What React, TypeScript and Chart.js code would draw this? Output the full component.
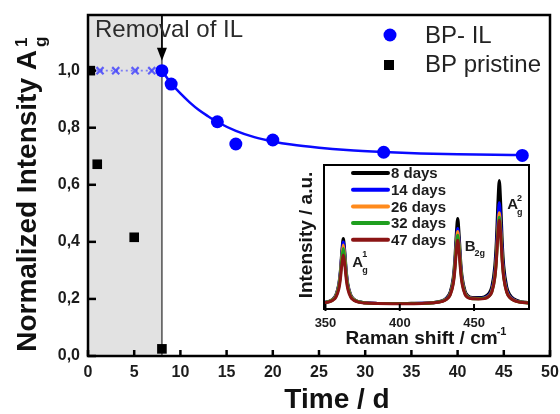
import React, { useEffect, useRef } from 'react';
import { Chart, registerables } from 'chart.js';

Chart.register(...registerables);

const FONT = '"Liberation Sans", Arial, Helvetica, sans-serif';

// ---------- main panel data ----------
const ilDays = [8, 9, 14, 16, 20, 32, 47];
const ilIntensity = [1.0, 0.953, 0.821, 0.743, 0.757, 0.714, 0.703];
const pristineDays = [0.25, 1, 5, 8];
const pristineIntensity = [1.0, 0.672, 0.416, 0.025];
const fitDays = [8, 9, 10, 11, 12, 13, 14, 16, 18, 20, 22, 25, 28, 32, 36, 40, 44, 47];
const fitIntensity = [1.0, 0.956, 0.92, 0.889, 0.862, 0.84, 0.82, 0.789, 0.767, 0.752, 0.741, 0.73, 0.722, 0.715, 0.71, 0.707, 0.705, 0.704];
const ilStoredDays = [0.3, 1.3, 3.0, 5.1, 6.9, 8];
const ilStoredIntensity = [1, 1, 1, 1, 1, 1];
const ilStoredMarker = [0, 5, 5, 5, 5, 0];
const removalDay = 8;
const removalLabel = 'Removal of IL';
const xTicks = [0, 5, 10, 15, 20, 25, 30, 35, 40, 45, 50];
const yTicks = [0, 0.2, 0.4, 0.6, 0.8, 1.0];
const yTickLabels = ['0,0', '0,2', '0,4', '0,6', '0,8', '1,0'];
const seriesLabels = ['BP- IL', 'BP pristine'];

// ---------- inset (Raman spectra) data ----------
const ramanShift = [349, 352, 355, 357, 359, 360, 361, 362, 363, 364, 365, 367, 369, 372, 377, 385, 395, 405, 415, 423, 428, 431, 434, 436, 437, 438, 439, 440, 441, 442, 444, 446, 449, 453, 457, 460, 462, 464, 465, 466, 467, 468, 469, 470, 472, 474, 477, 481, 487];
const spec8 = [0.046, 0.052, 0.069, 0.098, 0.175, 0.263, 0.399, 0.49, 0.399, 0.263, 0.175, 0.098, 0.069, 0.052, 0.043, 0.039, 0.038, 0.039, 0.04, 0.046, 0.056, 0.072, 0.12, 0.22, 0.334, 0.511, 0.629, 0.512, 0.335, 0.222, 0.123, 0.092, 0.08, 0.079, 0.085, 0.109, 0.157, 0.302, 0.466, 0.722, 0.893, 0.722, 0.465, 0.3, 0.155, 0.101, 0.069, 0.053, 0.044];
const spec14 = [0.045, 0.051, 0.067, 0.094, 0.167, 0.25, 0.379, 0.465, 0.379, 0.25, 0.167, 0.094, 0.067, 0.051, 0.043, 0.039, 0.038, 0.038, 0.04, 0.044, 0.053, 0.068, 0.109, 0.198, 0.298, 0.454, 0.559, 0.455, 0.299, 0.2, 0.112, 0.085, 0.075, 0.074, 0.078, 0.097, 0.135, 0.254, 0.388, 0.598, 0.738, 0.598, 0.387, 0.252, 0.133, 0.089, 0.063, 0.05, 0.042];
const spec26 = [0.044, 0.051, 0.066, 0.092, 0.161, 0.24, 0.363, 0.445, 0.363, 0.24, 0.161, 0.092, 0.066, 0.051, 0.042, 0.039, 0.038, 0.038, 0.039, 0.044, 0.053, 0.066, 0.106, 0.192, 0.288, 0.438, 0.538, 0.438, 0.289, 0.193, 0.109, 0.083, 0.074, 0.073, 0.075, 0.092, 0.126, 0.232, 0.353, 0.542, 0.668, 0.542, 0.352, 0.231, 0.123, 0.084, 0.06, 0.048, 0.042];
const spec32 = [0.044, 0.05, 0.064, 0.088, 0.154, 0.228, 0.343, 0.42, 0.343, 0.228, 0.154, 0.088, 0.064, 0.05, 0.042, 0.038, 0.038, 0.038, 0.039, 0.044, 0.052, 0.065, 0.103, 0.184, 0.275, 0.418, 0.513, 0.418, 0.276, 0.185, 0.105, 0.081, 0.072, 0.072, 0.074, 0.089, 0.121, 0.223, 0.338, 0.518, 0.637, 0.518, 0.337, 0.222, 0.119, 0.081, 0.059, 0.048, 0.041];
const spec47 = [0.043, 0.048, 0.061, 0.082, 0.14, 0.205, 0.307, 0.375, 0.307, 0.205, 0.14, 0.082, 0.061, 0.048, 0.041, 0.038, 0.037, 0.037, 0.039, 0.043, 0.051, 0.063, 0.098, 0.173, 0.258, 0.39, 0.478, 0.39, 0.258, 0.174, 0.1, 0.078, 0.071, 0.07, 0.072, 0.088, 0.118, 0.216, 0.328, 0.502, 0.617, 0.502, 0.327, 0.215, 0.116, 0.08, 0.058, 0.047, 0.041];
const spectraLabels = ['8 days', '14 days', '26 days', '32 days', '47 days'];
const spectraColors = ['#000000', '#0000ff', '#ff8a1c', '#1f9f1f', '#8b1414'];
const spectra = [spec8, spec14, spec26, spec32, spec47];
const ramanTicks = [350, 400, 450];
const peakPositions = [362, 439, 467];

const toXY = (xs: number[], ys: number[]) => xs.map((x, i) => ({ x, y: ys[i] }));

function textWithScripts(ctx: any, x: number, y: number, main: string, sup: string, sub: string, bigPx: number, smallPx: number, supDy: number, subDy: number, color: string) {
  ctx.fillStyle = color;
  ctx.textAlign = 'left';
  ctx.textBaseline = 'alphabetic';
  ctx.font = `bold ${bigPx}px ${FONT}`;
  ctx.fillText(main, x, y);
  const w = ctx.measureText(main).width;
  ctx.font = `bold ${smallPx}px ${FONT}`;
  if (sup) ctx.fillText(sup, x + w - 1, y + supDy);
  if (sub) ctx.fillText(sub, x + w - 1, y + subDy);
}

const mainDecor = {
  id: 'mainDecor',
  beforeDatasetsDraw(chart: any) {
    const { ctx, chartArea: a, scales } = chart;
    const xr = scales.x.getPixelForValue(removalDay);
    ctx.save();
    ctx.fillStyle = '#e2e2e2';
    ctx.fillRect(a.left, a.top, xr - a.left, a.bottom - a.top);
    ctx.strokeStyle = '#505050';
    ctx.lineWidth = 1.5;
    ctx.beginPath();
    ctx.moveTo(xr, a.top);
    ctx.lineTo(xr, a.bottom);
    ctx.stroke();
    ctx.restore();
  },
  afterDatasetsDraw(chart: any) {
    const { ctx, chartArea: a, scales } = chart;
    const xs = scales.x;
    const ys = scales.y;
    ctx.save();
    // arrow marking removal of IL
    const xr = xs.getPixelForValue(removalDay);
    const tip = ys.getPixelForValue(1.0) - 10;
    ctx.strokeStyle = '#000';
    ctx.lineWidth = 1.6;
    ctx.beginPath();
    ctx.moveTo(xr, a.top);
    ctx.lineTo(xr, tip - 10);
    ctx.stroke();
    ctx.fillStyle = '#000';
    ctx.beginPath();
    ctx.moveTo(xr - 5, tip - 13);
    ctx.lineTo(xr + 5, tip - 13);
    ctx.lineTo(xr, tip);
    ctx.closePath();
    ctx.fill();
    // annotation
    ctx.font = `24px ${FONT}`;
    ctx.fillStyle = '#2a2a2a';
    ctx.textAlign = 'left';
    ctx.textBaseline = 'alphabetic';
    ctx.fillText(removalLabel, a.left + 7, a.top + 22);
    // frame
    ctx.strokeStyle = '#000';
    ctx.lineWidth = 2.5;
    ctx.strokeRect(a.left, a.top, a.right - a.left, a.bottom - a.top);
    // tick marks (inward)
    ctx.lineWidth = 2.5;
    xTicks.forEach((v) => {
      const px = xs.getPixelForValue(v);
      ctx.beginPath();
      ctx.moveTo(px, a.bottom);
      ctx.lineTo(px, a.bottom - 6);
      ctx.stroke();
    });
    yTicks.forEach((v) => {
      const py = ys.getPixelForValue(v);
      ctx.beginPath();
      ctx.moveTo(a.left, py);
      ctx.lineTo(a.left + 8, py);
      ctx.stroke();
    });
    // tick labels
    ctx.font = `bold 16px ${FONT}`;
    ctx.fillStyle = '#1c1c1c';
    ctx.textAlign = 'center';
    ctx.textBaseline = 'middle';
    xTicks.forEach((v) => ctx.fillText(String(v), xs.getPixelForValue(v), a.bottom + 17));
    ctx.textAlign = 'right';
    yTicks.forEach((v, i) => ctx.fillText(yTickLabels[i], a.left - 8, ys.getPixelForValue(v)));
    // x title
    ctx.font = `bold 28px ${FONT}`;
    ctx.fillStyle = '#111';
    ctx.textAlign = 'center';
    ctx.textBaseline = 'alphabetic';
    ctx.fillText('Time / d', (a.left + a.right) / 2 + 18, a.bottom + 52);
    // y title
    ctx.save();
    ctx.font = `bold 28px ${FONT}`;
    const yt = 'Normalized Intensity A';
    const w = ctx.measureText(yt).width;
    ctx.translate(36, a.top + 35 + w);
    ctx.rotate(-Math.PI / 2);
    ctx.fillStyle = '#111';
    ctx.textAlign = 'left';
    ctx.fillText(yt, 0, 0);
    ctx.font = `bold 17px ${FONT}`;
    ctx.fillText('1', w + 3, -9);
    ctx.fillText('g', w + 3, 10);
    ctx.restore();
    // legend
    ctx.fillStyle = '#0000ff';
    ctx.beginPath();
    ctx.arc(a.right - 160, a.top + 20, 6.5, 0, Math.PI * 2);
    ctx.fill();
    ctx.fillStyle = '#000';
    ctx.fillRect(a.right - 166, a.top + 45, 10, 10);
    ctx.font = `24px ${FONT}`;
    ctx.fillStyle = '#222';
    ctx.textAlign = 'left';
    ctx.textBaseline = 'alphabetic';
    ctx.fillText(seriesLabels[0], a.right - 125, a.top + 28);
    ctx.fillText(seriesLabels[1], a.right - 125, a.top + 57);
    ctx.restore();
  },
};

const insetDecor = {
  id: 'insetDecor',
  beforeDatasetsDraw(chart: any) {
    const { ctx, chartArea: a } = chart;
    ctx.save();
    ctx.fillStyle = '#fff';
    ctx.fillRect(a.left, a.top, a.right - a.left, a.bottom - a.top);
    ctx.restore();
  },
  afterDatasetsDraw(chart: any) {
    const { ctx, chartArea: a, scales } = chart;
    const xs = scales.x;
    ctx.save();
    ctx.strokeStyle = '#000';
    ctx.lineWidth = 2;
    ctx.strokeRect(a.left, a.top, a.right - a.left, a.bottom - a.top);
    ramanTicks.forEach((v) => {
      const px = xs.getPixelForValue(v);
      ctx.beginPath();
      ctx.moveTo(px, a.bottom + 2);
      ctx.lineTo(px, a.bottom - 5);
      ctx.stroke();
    });
    ctx.font = `bold 13px ${FONT}`;
    ctx.fillStyle = '#1c1c1c';
    ctx.textAlign = 'center';
    ctx.textBaseline = 'middle';
    ramanTicks.forEach((v) => ctx.fillText(String(v), xs.getPixelForValue(v), a.bottom + 14));
    // x title with superscript
    ctx.font = `bold 19px ${FONT}`;
    const xt = 'Raman shift / cm';
    const wx = ctx.measureText(xt).width;
    ctx.font = `bold 11px ${FONT}`;
    const ws = ctx.measureText('-1').width;
    const x0 = (a.left + a.right) / 2 - (wx + ws) / 2;
    textWithScripts(ctx, x0, a.bottom + 35, xt, '-1', '', 19, 11, -9, 0, '#141414');
    // y title
    ctx.save();
    ctx.translate(a.left - 12, (a.top + a.bottom) / 2 - 2);
    ctx.rotate(-Math.PI / 2);
    ctx.font = `bold 19px ${FONT}`;
    ctx.fillStyle = '#141414';
    ctx.textAlign = 'center';
    ctx.textBaseline = 'alphabetic';
    ctx.fillText('Intensity / a.u.', 0, 0);
    ctx.restore();
    // legend
    spectraLabels.forEach((lab, i) => {
      const yy = a.top + 8 + i * 16.7;
      ctx.strokeStyle = spectraColors[i];
      ctx.lineWidth = 4;
      ctx.lineCap = 'round';
      ctx.beginPath();
      ctx.moveTo(a.left + 29, yy);
      ctx.lineTo(a.left + 64, yy);
      ctx.stroke();
      ctx.font = `bold 15px ${FONT}`;
      ctx.fillStyle = '#1c1c1c';
      ctx.textAlign = 'left';
      ctx.textBaseline = 'middle';
      ctx.fillText(lab, a.left + 67, yy + 1);
    });
    // peak labels
    const p1 = xs.getPixelForValue(peakPositions[0]);
    const p2 = xs.getPixelForValue(peakPositions[1]);
    const p3 = xs.getPixelForValue(peakPositions[2]);
    textWithScripts(ctx, p1 + 9, a.top + 102, 'A', '1', 'g', 15, 9, -10, 6, '#1c1c1c');
    textWithScripts(ctx, p2 + 7, a.top + 86, 'B', '', '2g', 15, 9, 0, 5, '#1c1c1c');
    textWithScripts(ctx, p3 + 8, a.top + 44, 'A', '2', 'g', 15, 9, -8, 6, '#1c1c1c');
    ctx.restore();
  },
};

export default function App() {
  const mainRef = useRef<HTMLCanvasElement>(null);
  const insetRef = useRef<HTMLCanvasElement>(null);

  useEffect(() => {
    const main = new Chart(mainRef.current as HTMLCanvasElement, {
      type: 'scatter',
      data: {
        datasets: [
          {
            label: seriesLabels[0],
            data: toXY(ilDays, ilIntensity),
            showLine: false,
            pointStyle: 'circle',
            pointRadius: 6.5,
            pointBackgroundColor: '#0000ff',
            pointBorderWidth: 0,
          } as any,
          {
            label: seriesLabels[1],
            data: toXY(pristineDays, pristineIntensity),
            showLine: false,
            pointStyle: 'rect',
            pointRadius: 6.8,
            pointBackgroundColor: '#000',
            pointBorderWidth: 0,
          },
          {
            label: 'fit',
            data: toXY(fitDays, fitIntensity),
            showLine: true,
            pointRadius: 0,
            borderColor: '#0a0aff',
            borderWidth: 2.5,
            cubicInterpolationMode: 'monotone',
          },
          {
            label: 'IL stored',
            data: toXY(ilStoredDays, ilStoredIntensity),
            showLine: true,
            borderColor: 'rgba(70,70,255,0.65)',
            borderWidth: 1.6,
            borderDash: [2, 3],
            pointStyle: 'crossRot',
            pointRadius: ilStoredMarker,
            pointBorderColor: 'rgba(50,50,255,0.75)',
            pointBorderWidth: 2.2,
          },
        ],
      },
      options: {
        animation: false,
        responsive: false,
        events: [],
        layout: { padding: { left: 88, right: 10, top: 15, bottom: 58 } },
        scales: {
          x: { type: 'linear', min: 0, max: 50, display: false },
          y: { type: 'linear', min: 0, max: 1.195, display: false },
        },
        plugins: { legend: { display: false }, tooltip: { enabled: false } },
      },
      plugins: [mainDecor],
    } as any);

    const order = [4, 3, 2, 1, 0];
    const inset = new Chart(insetRef.current as HTMLCanvasElement, {
      type: 'scatter',
      data: {
        datasets: order.map((i) => ({
          label: spectraLabels[i],
          data: toXY(ramanShift, spectra[i]),
          showLine: true,
          pointRadius: 0,
          borderColor: spectraColors[i],
          borderWidth: 3,
          cubicInterpolationMode: 'monotone',
        })),
      },
      options: {
        animation: false,
        responsive: false,
        events: [],
        layout: { padding: { left: 34, right: 11, top: 5, bottom: 41 } },
        scales: {
          x: { type: 'linear', min: 349, max: 487, display: false },
          y: { type: 'linear', min: 0, max: 1, display: false },
        },
        plugins: { legend: { display: false }, tooltip: { enabled: false } },
      },
      plugins: [insetDecor],
    } as any);

    return () => {
      main.destroy();
      inset.destroy();
    };
  }, []);

  return (
    <div style={{ position: 'absolute', left: 0, top: 0, width: 560, height: 414, background: '#fff' }}>
      <canvas ref={mainRef} width={560} height={414} style={{ position: 'absolute', left: 0, top: 0 }} />
      <canvas ref={insetRef} width={250} height={190} style={{ position: 'absolute', left: 290, top: 160 }} />
    </div>
  );
}
